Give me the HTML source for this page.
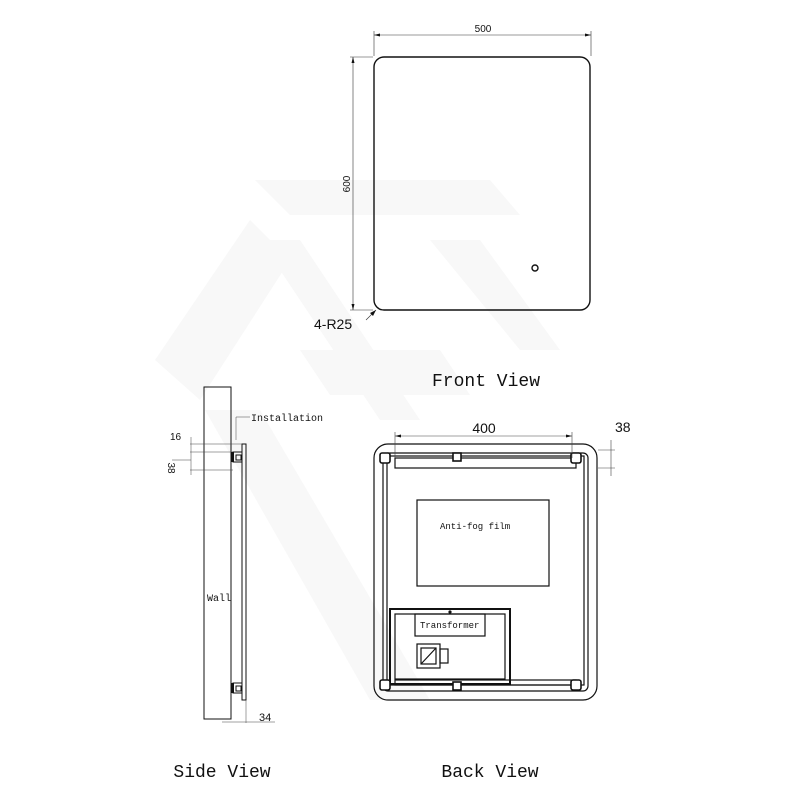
<!DOCTYPE html>
<html><head><meta charset="utf-8"><style>html,body{margin:0;padding:0;background:#fff}svg{display:block}</style></head>
<body>
<svg width="800" height="800" viewBox="0 0 800 800" xmlns="http://www.w3.org/2000/svg">
<g fill="#f8f8f8">
<polygon points="255,180 490,180 520,215 290,215"/>
<polygon points="155,360 250,220 290,260 200,400"/>
<polygon points="300,350 440,350 470,395 330,395"/>
<polygon points="205,410 260,410 430,700 370,700"/>
<polygon points="260,240 300,240 420,420 380,420"/>
<polygon points="430,240 480,240 560,350 520,350"/>
</g>
<g stroke="#111" fill="none" stroke-width="1.4">
<rect x="374" y="57" width="216" height="253" rx="10"/>
<circle cx="535" cy="268" r="3"/>
</g>
<g stroke="#333" fill="none" stroke-width="0.6">
<line x1="374" y1="35" x2="591" y2="35"/><line x1="374" y1="31" x2="374" y2="56"/><line x1="591" y1="31" x2="591" y2="56"/>
<line x1="353" y1="57" x2="353" y2="310"/><line x1="350" y1="57" x2="373" y2="57"/><line x1="350" y1="310" x2="373" y2="310"/>
<line x1="366" y1="320" x2="376" y2="310"/>
</g>
<g fill="#111">
<polygon points="374,35 380,33.5 380,36.5"/><polygon points="591,35 585,33.5 585,36.5"/>
<polygon points="353,57 351.5,63 354.5,63"/><polygon points="353,310 351.5,304 354.5,304"/>
<polygon points="376,310 370,313 373,316"/>
</g>
<g font-family="Liberation Sans, sans-serif" fill="#111">
<text x="483" y="32" font-size="10" text-anchor="middle">500</text>
<text x="350" y="184" font-size="10" text-anchor="middle" transform="rotate(-90 350 184)">600</text>
<text x="314" y="329" font-size="14">4-R25</text>
<text x="484" y="433" font-size="14" text-anchor="middle">400</text>
<text x="615" y="432" font-size="14">38</text>
<text x="170" y="440" font-size="10">16</text>
<text x="168" y="468" font-size="10" transform="rotate(90 168 468)" text-anchor="middle">38</text>
<text x="259" y="721" font-size="11">34</text>
</g>
<g font-family="Liberation Mono, monospace" fill="#111">
<text x="486" y="386" font-size="18" text-anchor="middle">Front View</text>
<text x="222" y="777" font-size="18" text-anchor="middle">Side View</text>
<text x="490" y="777" font-size="18" text-anchor="middle">Back View</text>
<text x="251" y="421" font-size="10">Installation</text>
<text x="207" y="601" font-size="10">Wall</text>
<text x="440" y="529" font-size="9">Anti-fog film</text>
<text x="420" y="628" font-size="9">Transformer</text>
</g>
<g stroke="#111" fill="none" stroke-width="1">
<rect x="204" y="387" width="27" height="332"/>
<rect x="242" y="444" width="4" height="256"/>
<rect x="233" y="452" width="9" height="10"/><rect x="236" y="455" width="5" height="5"/>
<rect x="233" y="683" width="9" height="10"/><rect x="236" y="686" width="5" height="5"/>
</g>
<g stroke="#444" fill="none" stroke-width="0.5">
<line x1="236" y1="417" x2="250" y2="417"/><line x1="236" y1="417" x2="236" y2="440"/>
<line x1="190" y1="444" x2="242" y2="444"/><line x1="190" y1="452" x2="233" y2="452"/><line x1="190" y1="470" x2="233" y2="470"/>
<line x1="191" y1="437" x2="191" y2="475"/><line x1="172" y1="460" x2="191" y2="460"/>
<line x1="246" y1="700" x2="246" y2="723"/><line x1="222" y1="722" x2="275" y2="722"/>
</g>
<rect x="231" y="452" width="3" height="10" fill="#111"/>
<rect x="231" y="683" width="3" height="10" fill="#111"/>
<g stroke="#111" fill="none" stroke-width="1.2">
<rect x="374" y="444" width="223" height="256" rx="14"/>
<rect x="383" y="453" width="205" height="238" rx="5"/>
<rect x="387" y="456" width="197" height="229"/>
<rect x="395" y="458" width="181" height="10"/>
<rect x="395" y="680" width="181" height="5"/>
<rect x="417" y="500" width="132" height="86"/>
<rect x="390" y="609" width="120" height="75" stroke-width="2"/>
<rect x="395" y="614" width="110" height="65"/>
<rect x="415" y="614" width="70" height="22"/>
<rect x="417" y="644" width="23" height="24"/>
<rect x="421" y="648" width="15" height="16"/>
<line x1="421" y1="664" x2="436" y2="648"/>
<rect x="440" y="649" width="8" height="14"/>
</g>
<g stroke="#111" fill="#fff" stroke-width="1.6">
<rect x="380" y="453" width="10" height="10" rx="2"/>
<rect x="571" y="453" width="10" height="10" rx="2"/>
<rect x="380" y="680" width="10" height="10" rx="2"/>
<rect x="571" y="680" width="10" height="10" rx="2"/>
<rect x="453" y="453" width="8" height="8"/>
<rect x="453" y="682" width="8" height="8"/>
</g>
<circle cx="450" cy="612" r="1.6" fill="#111"/>
<g stroke="#444" fill="none" stroke-width="0.6">
<line x1="395" y1="436" x2="572" y2="436"/><line x1="395" y1="432" x2="395" y2="458"/><line x1="572" y1="432" x2="572" y2="458"/>
<line x1="598" y1="450" x2="615" y2="450"/><line x1="598" y1="468" x2="615" y2="468"/>
<line x1="611" y1="440" x2="611" y2="476"/>
</g>
<g fill="#111"><polygon points="395,436 401,434.5 401,437.5"/><polygon points="572,436 566,434.5 566,437.5"/></g>
</svg>
</body></html>
